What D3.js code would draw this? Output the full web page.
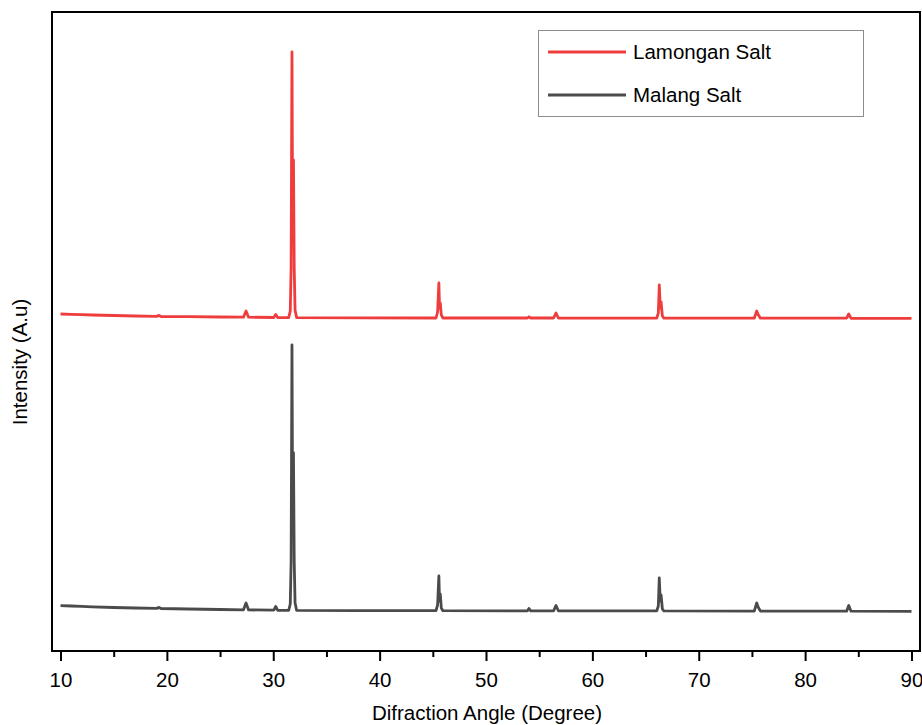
<!DOCTYPE html>
<html>
<head>
<meta charset="utf-8">
<script src="https://cdn.jsdelivr.net/npm/d3@7"></script>
<style>
  body { margin: 0; background: #fff; }
  text { font-family: Arial, "Liberation Sans", sans-serif; }
</style>
</head>
<body>
<div class="visData"></div>
<script>
const w = 922;
const h = 725;
const margin = { top: 12, right: 2, bottom: 74, left: 52 };

// data: [2theta (deg), intensity (counts)]
const seriesNames = ["Lamongan Salt", "Malang Salt"];
const seriesColors = ["#ef3d3d", "#4b4b4b"];
const lamonganOffset = 2930; // vertical stacking offset

const lamonganPattern = [
  [10.0, 440], [11, 437], [12, 433], [13, 430], [15, 425], [17, 420], [19.05, 416], [19.26, 426], [19.45, 415],
  [22, 413], [25, 410], [27.2, 408], [27.44, 470], [27.68, 408], [30.05, 405], [30.23, 435], [30.42, 405],
  [31.45, 404], [31.6, 470], [31.68, 900], [31.76, 3060], [31.82, 1400], [31.9, 1980], [31.97, 900], [32.05, 480], [32.2, 403],
  [38, 401], [45.3, 400], [45.45, 460], [45.57, 750], [45.63, 500], [45.7, 550], [45.8, 430], [45.95, 400],
  [53.9, 400], [54.04, 412], [54.2, 400], [56.35, 400], [56.58, 450], [56.8, 400],
  [66.05, 399], [66.2, 450], [66.29, 730], [66.38, 500], [66.46, 560], [66.58, 420], [66.72, 399],
  [75.22, 398], [75.45, 470], [75.58, 435], [75.8, 398],
  [83.9, 398], [84.1, 440], [84.32, 397], [90, 397]
];

const malangPattern = [
  [10.0, 453], [11, 450], [12, 446], [13, 442], [15, 435], [17, 430], [19.05, 426], [19.26, 436], [19.45, 425],
  [22, 420], [25, 415], [27.2, 412], [27.44, 480], [27.68, 411], [30.05, 408], [30.23, 445], [30.42, 407],
  [31.45, 407], [31.6, 470], [31.68, 900], [31.76, 3060], [31.82, 1400], [31.9, 1983], [31.97, 900], [32.05, 480], [32.2, 406],
  [38, 404], [45.3, 403], [45.45, 460], [45.57, 750], [45.63, 500], [45.7, 570], [45.8, 430], [45.95, 403],
  [53.9, 402], [54.04, 425], [54.2, 402], [56.35, 402], [56.58, 455], [56.8, 402],
  [66.05, 401], [66.2, 450], [66.29, 730], [66.38, 500], [66.46, 560], [66.58, 420], [66.72, 401],
  [75.22, 399], [75.45, 480], [75.58, 440], [75.8, 399],
  [83.9, 398], [84.1, 455], [84.32, 398], [90, 397]
];

const xMajorTicks = [10, 20, 30, 40, 50, 60, 70, 80, 90];
const xMinorTicks = [15, 25, 35, 45, 55, 65, 75, 85];
const xDomain = [9.2, 90.8];
const yDomain = [0, 6390];

const fontSize = 20.5;

const svg = d3
  .select(".visData")
  .append("svg")
  .attr("width", w)
  .attr("height", h);

//scales
const xScale = d3.scaleLinear().domain(xDomain).range([margin.left, w - margin.right]);
const yScale = d3.scaleLinear().domain(yDomain).range([h - margin.bottom, margin.top]);

const line = d3
  .line()
  .x((d) => xScale(d[0]))
  .y((d) => yScale(d[1]));

const series = [
  { name: seriesNames[0], color: seriesColors[0], values: lamonganPattern.map((d) => [d[0], d[1] + lamonganOffset]) },
  { name: seriesNames[1], color: seriesColors[1], values: malangPattern }
];

//lines
svg
  .selectAll("path.pattern")
  .data(series)
  .enter()
  .append("path")
  .attr("class", "pattern")
  .attr("d", (d) => line(d.values))
  .attr("fill", "none")
  .attr("stroke", (d) => d.color)
  .attr("stroke-width", 2.8)
  .attr("stroke-linejoin", "round");

//frame
svg
  .append("rect")
  .attr("x", margin.left)
  .attr("y", margin.top)
  .attr("width", w - margin.right - margin.left)
  .attr("height", h - margin.bottom - margin.top)
  .attr("fill", "none")
  .attr("stroke", "#000")
  .attr("stroke-width", 2);

//x axis
const xAxis = d3
  .axisBottom(xScale)
  .tickValues(xMajorTicks)
  .tickFormat(d3.format("d"))
  .tickSize(10)
  .tickSizeOuter(0)
  .tickPadding(11);

const gx = svg
  .append("g")
  .attr("id", "x-axis")
  .attr("transform", `translate(0, ${h - margin.bottom})`)
  .call(xAxis);
gx.select(".domain").remove();
gx.selectAll(".tick line").attr("stroke-width", 2);
gx.selectAll(".tick text").attr("font-size", fontSize).attr("fill", "#000");

const xMinor = d3.axisBottom(xScale).tickValues(xMinorTicks).tickSize(6).tickFormat("");
const gxm = svg
  .append("g")
  .attr("transform", `translate(0, ${h - margin.bottom})`)
  .call(xMinor);
gxm.select(".domain").remove();
gxm.selectAll(".tick line").attr("stroke-width", 2);

//axis titles
svg
  .append("text")
  .attr("x", 487)
  .attr("y", 720)
  .attr("text-anchor", "middle")
  .attr("font-size", fontSize)
  .text("Difraction Angle (Degree)");

svg
  .append("text")
  .attr("transform", `translate(27, 362) rotate(-90)`)
  .attr("text-anchor", "middle")
  .attr("font-size", fontSize)
  .text("Intensity (A.u)");

//legend
const legend = svg.append("g").attr("id", "legend");
legend
  .append("rect")
  .attr("x", 538.5)
  .attr("y", 30.5)
  .attr("width", 325)
  .attr("height", 86)
  .attr("fill", "#fff")
  .attr("stroke", "#8c8c8c")
  .attr("stroke-width", 1);

const items = legend
  .selectAll("g.item")
  .data(series)
  .enter()
  .append("g")
  .attr("class", "item")
  .attr("transform", (d, i) => `translate(548, ${52 + i * 43})`);

items
  .append("line")
  .attr("x1", 0)
  .attr("x2", 78)
  .attr("stroke", (d) => d.color)
  .attr("stroke-width", 2.8);

items
  .append("text")
  .attr("x", 85)
  .attr("dy", "0.35em")
  .attr("font-size", fontSize)
  .text((d) => d.name);
</script>
</body>
</html>
